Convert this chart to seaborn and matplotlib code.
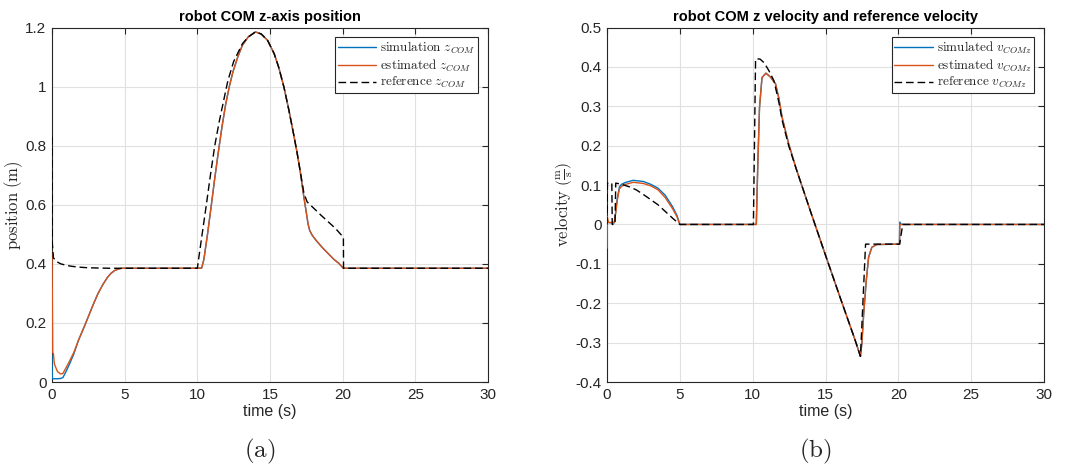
import matplotlib
matplotlib.use("Agg")
import matplotlib.pyplot as plt
import seaborn as sns

# ---------------- data: position panel ----------------
t_pos = [0, 0.02, 0.05, 0.1, 0.16, 0.25, 0.38, 0.6, 0.75, 0.93, 1.2, 1.5, 1.82, 2.2, 2.49,
         2.8, 3.16, 3.5, 3.8, 4.04, 4.3, 4.6, 4.82, 5.0, 10.0, 10.3, 10.45, 10.7, 10.94, 11.2,
         11.45, 11.7, 11.95, 12.2, 12.45, 12.78, 13.1, 13.5, 14.0, 14.4, 14.84, 15.29, 15.6,
         15.96, 16.3, 16.62, 16.85, 17.07, 17.33, 17.51, 17.62, 17.73, 17.9, 18.18, 18.6, 19.0,
         19.4, 19.73, 20.05, 30]
z_est = [0.44, 0.30, 0.10, 0.095, 0.062, 0.05, 0.035, 0.027, 0.029, 0.045, 0.07, 0.10, 0.141,
         0.185, 0.22, 0.258, 0.299, 0.33, 0.353, 0.367, 0.377, 0.383, 0.385, 0.385, 0.385, 0.386,
         0.415, 0.50, 0.59, 0.69, 0.78, 0.865, 0.94, 1.0, 1.05, 1.10, 1.14, 1.168, 1.185, 1.178,
         1.156, 1.111, 1.065, 0.998, 0.92, 0.84, 0.78, 0.716, 0.626, 0.57, 0.535, 0.513, 0.497,
         0.479, 0.455, 0.435, 0.415, 0.402, 0.385, 0.385]
z_sim = [0.09, 0.011, 0.011, 0.011, 0.011, 0.011, 0.011, 0.012, 0.015, 0.032, 0.06, 0.095, 0.141,
         0.185, 0.22, 0.258, 0.299, 0.33, 0.353, 0.367, 0.377, 0.383, 0.385, 0.385, 0.385, 0.386,
         0.415, 0.50, 0.59, 0.69, 0.78, 0.865, 0.94, 1.0, 1.05, 1.10, 1.14, 1.168, 1.185, 1.178,
         1.156, 1.111, 1.065, 0.998, 0.92, 0.84, 0.78, 0.716, 0.626, 0.57, 0.535, 0.513, 0.497,
         0.479, 0.455, 0.435, 0.415, 0.402, 0.385, 0.385]
t_pos_ref = [0, 0.01, 0.02, 0.1, 0.3, 0.6, 0.9, 1.3, 1.8, 2.4, 3.0, 4.0, 5.0, 10.0, 10.3, 10.62,
             10.9, 11.2, 11.5, 11.8, 12.1, 12.5, 12.8, 13.1, 13.5, 14.0, 14.4, 14.84, 15.29, 15.6,
             15.96, 16.3, 16.62, 16.85, 17.07, 17.33, 17.55, 18.5, 19.5, 20.05, 20.06, 30]
z_ref = [0.83, 0.60, 0.47, 0.42, 0.408, 0.40, 0.396, 0.392, 0.389, 0.387, 0.386, 0.385, 0.385,
         0.385, 0.49, 0.60, 0.70, 0.80, 0.88, 0.95, 1.02, 1.085, 1.115, 1.145, 1.168, 1.185,
         1.178, 1.156, 1.111, 1.065, 0.998, 0.92, 0.84, 0.78, 0.716, 0.64, 0.61, 0.565, 0.52,
         0.49, 0.385, 0.385]

# ---------------- data: velocity panel ----------------
t_vel = [0, 0.02, 0.1, 0.3, 0.5, 0.6, 0.7, 0.85, 1.0, 1.3, 1.8, 2.5, 3.0, 3.5, 4.0, 4.5, 4.8, 5.0,
         10.25, 10.35, 10.47, 10.64, 10.91, 11.2, 11.57, 11.8, 12.02, 12.47, 13.0, 13.5, 14.0,
         15.0, 16.0, 17.0, 17.4, 17.5, 17.62, 17.8, 17.96, 18.18, 18.52, 20.08, 20.1, 20.2, 30]
v_est = [-0.06, 0.02, 0.005, 0.005, 0.005, 0.03, 0.06, 0.09, 0.097, 0.102, 0.107, 0.104, 0.098,
         0.088, 0.068, 0.04, 0.02, 0.0, 0.0, 0.15, 0.297, 0.373, 0.384, 0.375, 0.357, 0.32, 0.272,
         0.205, 0.14, 0.085, 0.03, -0.078, -0.185, -0.29, -0.335, -0.30, -0.227, -0.142, -0.083,
         -0.058, -0.051, -0.05, 0.0, 0.0, 0.0]
v_sim = [0.02, 0.01, 0.005, 0.004, 0.004, 0.032, 0.065, 0.095, 0.102, 0.107, 0.112, 0.109, 0.102,
         0.092, 0.074, 0.045, 0.023, 0.0, 0.0, 0.15, 0.297, 0.373, 0.384, 0.375, 0.357, 0.32, 0.272,
         0.205, 0.14, 0.085, 0.03, -0.078, -0.185, -0.29, -0.335, -0.30, -0.227, -0.142, -0.083,
         -0.058, -0.051, -0.05, 0.006, 0.0, 0.0]
t_vel_ref = [0, 0.03, 0.33, 0.36, 0.55, 0.6, 1.0, 1.57, 2.0, 2.5, 3.0, 3.5, 4.0, 4.5, 5.0, 10.05,
             10.2, 10.5, 10.8, 11.12, 11.46, 11.8, 12.02, 12.47, 13.0, 13.5, 14.0, 15.0, 16.0,
             17.0, 17.4, 17.75, 20.09, 20.3, 30]
v_ref = [0.0, 0.105, 0.105, 0.0, 0.0, 0.105, 0.102, 0.095, 0.088, 0.076, 0.063, 0.05, 0.033,
         0.016, 0.0, 0.0, 0.42, 0.42, 0.41, 0.39, 0.365, 0.31, 0.265, 0.20, 0.14, 0.085, 0.03,
         -0.078, -0.185, -0.29, -0.335, -0.05, -0.05, 0.0, 0.0]

x_ticks = [0, 5, 10, 15, 20, 25, 30]
x_tick_labels = ["0", "5", "10", "15", "20", "25", "30"]
pos_ticks = [0, 0.2, 0.4, 0.6, 0.8, 1.0, 1.2]
pos_tick_labels = ["0", "0.2", "0.4", "0.6", "0.8", "1", "1.2"]
vel_ticks = [-0.4, -0.3, -0.2, -0.1, 0, 0.1, 0.2, 0.3, 0.4, 0.5]
vel_tick_labels = ["-0.4", "-0.3", "-0.2", "-0.1", "0", "0.1", "0.2", "0.3", "0.4", "0.5"]

titles = ["robot COM z-axis position", "robot COM z velocity and reference velocity"]
pos_labels = [r"$\mathrm{simulation}\ z_{COM}$", r"$\mathrm{estimated}\ z_{COM}$",
              r"$\mathrm{reference}\ z_{COM}$"]
vel_labels = [r"$\mathrm{simulated}\ v_{COMz}$", r"$\mathrm{estimated}\ v_{COMz}$",
              r"$\mathrm{reference}\ v_{COMz}$"]

# ---------------- style ----------------
sns.set_theme(style="white")
plt.rcParams["font.family"] = ["Liberation Sans", "DejaVu Sans"]
plt.rcParams["mathtext.fontset"] = "cm"
plt.rcParams["axes.unicode_minus"] = False

BLUE = "#0072BD"
ORANGE = "#D95319"
DARK = "#262626"

fig = plt.figure(figsize=(10.73, 4.66), dpi=100)
fig.patch.set_facecolor("white")
H = 466.0
W = 1073.0
ax1 = fig.add_axes([52 / W, 1 - 382 / H, 436 / W, 354.5 / H])
ax2 = fig.add_axes([607 / W, 1 - 382 / H, 437 / W, 354.5 / H])


def draw(ax, t, ys, t_ref, y_ref, labels):
    sns.lineplot(x=t, y=ys[0], ax=ax, color=BLUE, lw=1.0, label=labels[0],
                 estimator=None, sort=False, zorder=3)
    sns.lineplot(x=t, y=ys[1], ax=ax, color=ORANGE, lw=1.0, label=labels[1],
                 estimator=None, sort=False, zorder=3)
    sns.lineplot(x=t_ref, y=y_ref, ax=ax, color="black", lw=1.0, label=labels[2],
                 estimator=None, sort=False, zorder=3)
    ax.lines[-1].set_dashes([5.5, 2.8])


def style(ax, yticks, ylabels, ylim, title, ylabel, letter):
    ax.set_xlim(0, 30)
    ax.set_ylim(*ylim)
    ax.set_xticks(x_ticks)
    ax.set_xticklabels(x_tick_labels)
    ax.set_yticks(yticks)
    ax.set_yticklabels(ylabels)
    ax.grid(True, color="#e0e0e0", lw=0.8)
    ax.set_axisbelow(True)
    ax.tick_params(direction="in", top=True, right=True, length=4, width=0.8,
                   colors=DARK, labelsize=11, pad=4)
    for sp in ax.spines.values():
        sp.set_visible(True)
        sp.set_color(DARK)
        sp.set_linewidth(0.8)
        sp.set_zorder(2.5)
    ax.set_title(title, fontsize=10.5, fontweight="bold", color="black", pad=5)
    ax.set_xlabel("time (s)", fontsize=11.5, color=DARK, labelpad=2)
    ax.set_ylabel(ylabel, fontsize=12, color=DARK, labelpad=0.5)
    leg = ax.legend(loc="upper right", fontsize=9.5, frameon=True, fancybox=False,
                    edgecolor=DARK, framealpha=1, borderaxespad=0.75, handlelength=2.9,
                    labelspacing=0.1, borderpad=0.2, handletextpad=0.3)
    leg.get_frame().set_linewidth(0.8)
    leg.set_zorder(5)
    ax.text(0.477, -0.197, letter, transform=ax.transAxes, ha="center", va="center",
            fontsize=18, color=DARK)


draw(ax1, t_pos, [z_sim, z_est], t_pos_ref, z_ref, pos_labels)
style(ax1, pos_ticks, pos_tick_labels, (0, 1.2), titles[0],
      r"$\mathrm{position\ (m)}$", r"$\mathrm{(a)}$")

draw(ax2, t_vel, [v_sim, v_est], t_vel_ref, v_ref, vel_labels)
style(ax2, vel_ticks, vel_tick_labels, (-0.4, 0.5), titles[1],
      r"$\mathrm{velocity}\ \left(\frac{\mathrm{m}}{\mathrm{s}}\right)$", r"$\mathrm{(b)}$")

fig.savefig("out.png", dpi=100, facecolor="white")
